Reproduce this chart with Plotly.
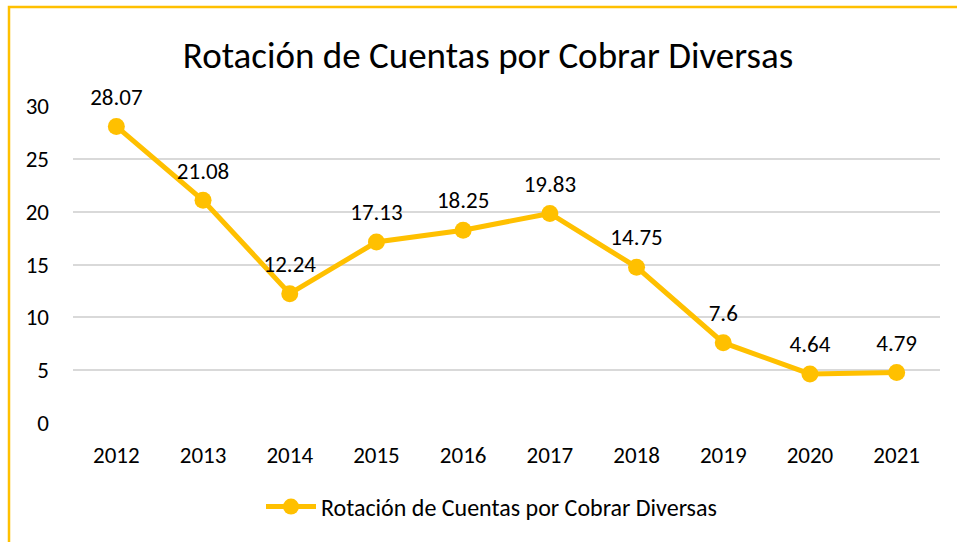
import plotly.graph_objects as go

years = ["2012", "2013", "2014", "2015", "2016", "2017", "2018", "2019", "2020", "2021"]
values = [28.07, 21.08, 12.24, 17.13, 18.25, 19.83, 14.75, 7.6, 4.64, 4.79]
value_labels = ["28.07", "21.08", "12.24", "17.13", "18.25", "19.83", "14.75", "7.6", "4.64", "4.79"]
series_name = "Rotación de Cuentas por Cobrar Diversas"
title_text = "Rotación de Cuentas por Cobrar Diversas"
y_ticks = [0, 5, 10, 15, 20, 25, 30]

FONT = "Calibri, Carlito, Lato, sans-serif"
GOLD = "#FFC000"

W, H = 957, 542
L, R, T, B = 73, 17, 106, 119
pw = W - L - R
ph = H - T - B

fig = go.Figure()
fig.add_trace(go.Scatter(
    x=years, y=values, mode="lines+markers", name=series_name,
    line=dict(color=GOLD, width=5),
    marker=dict(color=GOLD, size=17),
    cliponaxis=False,
))
# data labels (hidden spacer marker pushes the text up like Excel's labels)
fig.add_trace(go.Scatter(
    x=years, y=values, mode="markers+text", text=value_labels,
    textposition="top center", showlegend=False, hoverinfo="skip",
    marker=dict(size=24, color="rgba(0,0,0,0)"),
    textfont=dict(family=FONT, size=23, color="#000000"),
    cliponaxis=False,
))

fig.add_shape(type="rect", xref="paper", yref="paper",
              x0=(9 - L) / pw, x1=(W + 20 - L) / pw,
              y0=(H - B - (H + 20)) / ph, y1=(H - B - 7) / ph,
              line=dict(color=GOLD, width=2.5), fillcolor="rgba(0,0,0,0)", layer="below")

fig.update_layout(
    width=W, height=H,
    margin=dict(l=L, r=R, t=T, b=B),
    paper_bgcolor="white", plot_bgcolor="white",
    title=dict(text=title_text, x=488 / W, xanchor="center", y=1 - 55 / H, yanchor="middle",
               font=dict(family=FONT, size=37, color="#000000")),
    showlegend=True,
    legend=dict(orientation="h", x=0.5 - 15 / pw, xanchor="center", y=(H - B - 507) / ph, yanchor="middle",
                font=dict(family=FONT, size=24, color="#000000"), itemwidth=50),
    xaxis=dict(type="category", range=[-0.5, len(years) - 0.5], showgrid=False, showline=False,
               zeroline=False, ticks="", tickfont=dict(family=FONT, size=23, color="#000000"),
               ticklabelstandoff=16),
    yaxis=dict(range=[0, 30], tickvals=y_ticks, showgrid=True, gridcolor="#D9D9D9", gridwidth=1.5,
               zeroline=False, showline=False, ticks="",
               tickfont=dict(family=FONT, size=23, color="#000000"), ticklabelstandoff=23),
)

fig.write_html("out.html", post_script="document.body.style.margin='0';",
               config={"displayModeBar": False})
